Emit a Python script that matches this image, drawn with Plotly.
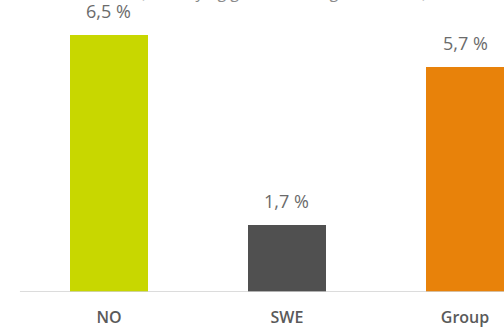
import plotly.graph_objects as go

categories = ["NO", "SWE", "Group"]
values = [6.5, 1.7, 5.7]
labels = ["6,5 %", "1,7 %", "5,7 %"]
colors = ["#c8d700", "#505050", "#e8820a"]
title_text = "(Underlying growth, rolling 12 months)"

fig = go.Figure()
fig.add_trace(go.Bar(
    x=categories, y=values, marker=dict(color=colors, line=dict(width=0)),
    width=0.44, hoverinfo="skip",
))
for c, v, t in zip(categories, values, labels):
    fig.add_annotation(x=c, y=v, text=t, showarrow=False, yanchor="bottom",
                       yshift=10, font=dict(family="Open Sans", size=18, color="#6b6b6b"))

fig.add_shape(type="line", xref="x", yref="y", x0=-0.5, x1=2.3, y0=0, y1=0,
              line=dict(color="#d0d0d0", width=1.5))

fig.add_annotation(xref="paper", yref="paper", x=0.562, y=1.0, yanchor="bottom",
                   yshift=-5, text=title_text, showarrow=False,
                   font=dict(family="Open Sans", size=16, color="#8a8a8a"))

fig.update_layout(
    width=504, height=331, margin=dict(l=0, r=0, t=0, b=39),
    paper_bgcolor="white", plot_bgcolor="white", showlegend=False,
    xaxis=dict(range=[-0.612, 2.219], showgrid=False, zeroline=False, showline=False,
               ticks="", ticklabelstandoff=14,
               tickfont=dict(family="Open Sans", size=16, color="#5a5a5a", weight=600)),
    yaxis=dict(range=[0, 7.39], visible=False),
    bargap=0,
)
fig.write_html("out.html")
